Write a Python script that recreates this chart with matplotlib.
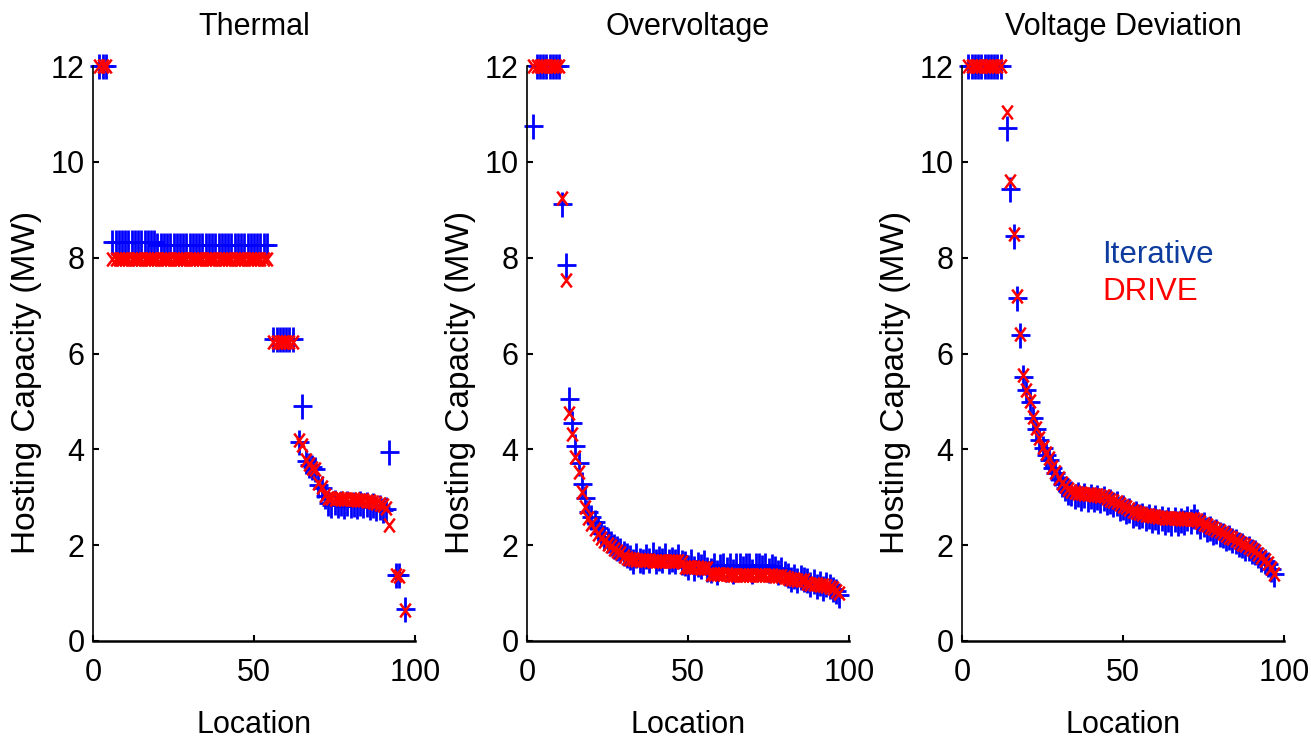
import matplotlib
matplotlib.use("Agg")
import matplotlib.pyplot as plt
from matplotlib.path import Path

# ---- data (location, iterative, DRIVE) ----
thermal_loc = ([2, 3, 4] + list(range(6, 55)) + list(range(56, 63))
               + list(range(64, 93)) + [94, 95, 97])
thermal_iter = ([12.0, 12.0, 12.0]
                + [8.33] * 14 + [8.27] * 35
                + [6.30] * 7
                + [4.15, 4.90, 3.75, 3.68, 3.64, 3.60, 3.25, 3.20, 3.02,
                   2.88, 2.84, 2.90, 2.83, 2.87, 2.82, 2.89, 2.84, 2.86, 2.81,
                   2.88, 2.83, 2.85, 2.80, 2.84, 2.78, 2.80, 2.74, 2.76,
                   3.95]
                + [1.38, 1.38, 0.67])
thermal_drive = ([12.0, 12.0, 12.0]
                 + [7.97] * 49
                 + [6.25] * 7
                 + [4.20, 4.10, 3.78, 3.70, 3.62, 3.58, 3.30, 3.22, 3.05,
                    2.98, 2.98, 2.97, 2.98, 2.97, 2.97, 2.96, 2.96, 2.96, 2.95,
                    2.95, 2.94, 2.93, 2.92, 2.90, 2.88, 2.86, 2.83, 2.78,
                    2.42]
                 + [1.38, 1.36, 0.65])

over_loc = list(range(2, 98))
over_iter = ([10.75] + [12.0] * 8
             + [9.12, 7.85, 5.05, 4.56, 4.08, 3.71, 3.28, 2.98, 2.70, 2.58,
                2.48, 2.36, 2.26, 2.18, 2.10, 2.04, 1.98, 1.95, 1.90, 1.84, 1.80]
             + [1.75, 1.68, 1.80, 1.70, 1.66, 1.78, 1.69, 1.82, 1.67, 1.74,
                1.70, 1.79, 1.66, 1.72, 1.68, 1.77, 1.65]
             + [1.62, 1.55, 1.66, 1.52, 1.60, 1.56, 1.64, 1.50]
             + [1.48, 1.58, 1.45, 1.56, 1.59, 1.50, 1.59, 1.47, 1.58, 1.59,
                1.52, 1.59, 1.59, 1.46, 1.58, 1.59, 1.55, 1.59, 1.48, 1.57,
                1.52, 1.44, 1.50, 1.42]
             + [1.38, 1.30, 1.36, 1.28, 1.34, 1.30]
             + [1.28, 1.20, 1.26, 1.15, 1.22, 1.10, 1.18]
             + [1.15, 1.08, 1.05, 0.95])
over_drive = ([12.0] * 9
              + [9.25, 7.53, 4.75, 4.33, 3.85, 3.53, 3.10, 2.80, 2.56, 2.45,
                 2.34, 2.24, 2.15, 2.08, 2.03, 1.98, 1.92, 1.88, 1.83, 1.78, 1.74]
              + [1.72, 1.71, 1.70, 1.70, 1.69, 1.69, 1.69, 1.68, 1.68, 1.68,
                 1.68, 1.67, 1.67, 1.67, 1.66, 1.66, 1.65]
              + [1.55, 1.55, 1.54, 1.54, 1.54, 1.53, 1.53, 1.52]
              + [1.40, 1.40, 1.39, 1.39, 1.39, 1.39, 1.38, 1.38, 1.38, 1.38,
                 1.38, 1.38, 1.38, 1.38, 1.38, 1.38, 1.37, 1.37, 1.37, 1.37,
                 1.36, 1.36, 1.35, 1.34]
              + [1.31, 1.30, 1.29, 1.28, 1.28, 1.27]
              + [1.22, 1.20, 1.19, 1.18, 1.17, 1.16, 1.15]
              + [1.12, 1.10, 1.04, 1.00])

vd_loc = list(range(2, 13)) + list(range(14, 98))
vd_iter = ([12.0] * 11
           + [10.70, 9.43, 8.45, 7.15, 6.39, 5.52, 5.24, 4.98, 4.65, 4.42,
              4.20, 4.02, 3.88, 3.78, 3.62, 3.50, 3.38, 3.28, 3.20, 3.12, 3.08]
           + [3.02, 3.06, 2.98, 3.04, 2.96, 3.03, 2.97, 3.01, 2.94, 2.99,
              2.90, 2.93, 2.85, 2.88, 2.78, 2.80, 2.72, 2.74,
              2.64, 2.68, 2.60, 2.64, 2.56, 2.61, 2.52, 2.58,
              2.50, 2.56, 2.48, 2.55, 2.47, 2.54, 2.46, 2.53, 2.49, 2.56, 2.50, 2.60,
              2.50, 2.40, 2.44, 2.34, 2.36, 2.28, 2.30, 2.24,
              2.22, 2.16, 2.17, 2.10, 2.08, 2.02, 2.01, 1.95,
              1.94, 1.87, 1.86, 1.80, 1.72, 1.68, 1.60, 1.50, 1.39])
vd_drive = ([12.0] * 11
            + [11.03, 9.60, 8.50, 7.20, 6.40, 5.55, 5.24, 5.00, 4.68, 4.44,
               4.23, 4.05, 3.92, 3.82, 3.64, 3.52, 3.40, 3.30, 3.24, 3.17, 3.14]
            + [3.10, 3.09, 3.08, 3.07, 3.06, 3.06, 3.05, 3.04, 3.03, 3.02,
               2.98, 2.95, 2.92, 2.90, 2.85, 2.82, 2.79, 2.76,
               2.72, 2.70, 2.68, 2.66, 2.64, 2.63, 2.61, 2.60,
               2.58, 2.58, 2.57, 2.57, 2.56, 2.56, 2.56, 2.55, 2.55, 2.55, 2.55, 2.54,
               2.52, 2.48, 2.45, 2.42, 2.38, 2.35, 2.32, 2.30,
               2.25, 2.22, 2.18, 2.15, 2.10, 2.07, 2.03, 2.00,
               1.96, 1.92, 1.88, 1.82, 1.76, 1.70, 1.62, 1.52, 1.40])

titles = ["Thermal", "Overvoltage", "Voltage Deviation"]
panels = [(thermal_loc, thermal_iter, thermal_drive),
          (over_loc, over_iter, over_drive),
          (vd_loc, vd_iter, vd_drive)]

# ---- markers: plus taller than wide, x slightly narrow ----
M, L = Path.MOVETO, Path.LINETO
plus_mk = Path([(-0.76, 0), (0.76, 0), (0, -1), (0, 1)], [M, L, M, L])
cross_mk = Path([(-0.76, -1), (0.76, 1), (-0.76, 1), (0.76, -1)], [M, L, M, L])

regular = ["Liberation Sans", "Arial", "DejaVu Sans"]

fig = plt.figure(figsize=(13.11, 7.44), dpi=100)
lefts = [93 / 1311, 527 / 1311, 962 / 1311]

for i, (loc, it, dr) in enumerate(panels):
    ax = fig.add_axes([lefts[i], 103 / 744, 322 / 1311, 575 / 744])
    ax.plot(loc, it, linestyle="none", marker=plus_mk, ms=18, mew=2.0,
            color="#0000ff", clip_on=False)
    ax.plot(loc, dr, linestyle="none", marker=cross_mk, ms=10, mew=1.8,
            color="#ff0000", clip_on=False)
    ax.set_xlim(0, 100)
    ax.set_ylim(0, 12)
    ax.set_xticks([0, 50, 100])
    ax.set_yticks([0, 2, 4, 6, 8, 10, 12])
    for s in ["top", "right"]:
        ax.spines[s].set_visible(False)
    ax.spines["bottom"].set_linewidth(1.8)
    ax.spines["left"].set_linewidth(1.2)
    ax.tick_params(direction="in", length=4, width=1.5)
    ax.tick_params(axis="x", pad=12)
    ax.tick_params(axis="y", pad=6)
    for lab in ax.get_xticklabels() + ax.get_yticklabels():
        lab.set_family(regular)
        lab.set_fontsize(22)
    ax.set_title(titles[i], family=regular, fontsize=22, pad=22)
    ax.set_xlabel("Location", family=regular, fontsize=22, va="center")
    ax.xaxis.set_label_coords(0.5, -0.146)
    ax.set_ylabel("Hosting Capacity (MW)", family=regular, fontsize=24,
                  va="center")
    ax.yaxis.set_label_coords(-0.205, 0.45)

fig.text(1102 / 1311, 1 - 263 / 744, "Iterative", color="#0d3c9e",
         family=regular, fontsize=22.5, va="baseline")
fig.text(1102 / 1311, 1 - 300 / 744, "DRIVE", color="#ff0000",
         family=regular, fontsize=22.5, va="baseline")

fig.savefig("out.png", dpi=100)
